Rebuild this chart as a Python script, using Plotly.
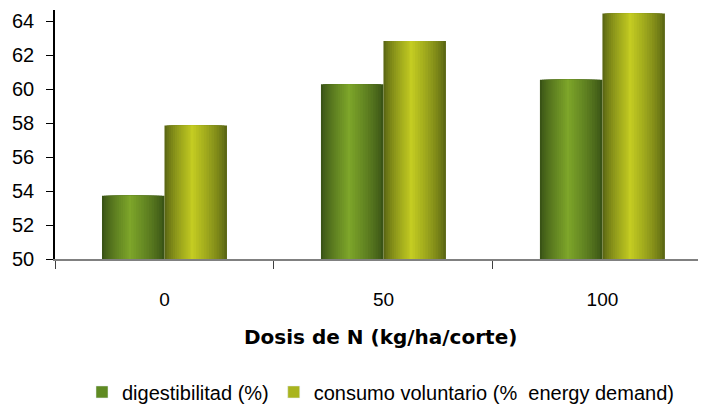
import plotly.graph_objects as go

categories = ["0", "50", "100"]
digestibilidad = [53.72, 60.28, 60.55]
consumo = [57.86, 62.82, 64.45]
series_names = ["digestibilitad (%)", "consumo voluntario (%\u00a0 energy demand)"]
y_ticks = [50, 52, 54, 56, 58, 60, 62, 64]


def mix(c1, c2, t):
    return "rgb(%d,%d,%d)" % tuple(round(a + (b - a) * t) for a, b in zip(c1, c2))


fig = go.Figure()

bar_w = 0.2854
styles = [
    # (values, name, left offset, dark, bright, legend colour)
    (digestibilidad, series_names[0], -bar_w, (58, 84, 22), (126, 166, 42), "#5f8a22"),
    (consumo, series_names[1], 0.0, (92, 104, 20), (196, 204, 34), "#a9b41e"),
]
n_layers = 14
peak = 0.45
for vals, name, off, dark, bright, leg in styles:
    for k in range(n_layers):
        t = k / (n_layers - 1)
        left = off + t * peak * bar_w * 0.97
        right = off + bar_w - t * (1 - peak) * bar_w * 0.97
        fig.add_trace(go.Bar(
            x=categories, y=vals, name=name,
            offset=left, width=right - left,
            marker=dict(color=mix(dark, bright, t ** 0.8), line=dict(width=0)),
            showlegend=False, legendgroup=name, hoverinfo="skip",
        ))
    # legend entry
    fig.add_trace(go.Bar(
        x=categories, y=[None] * len(categories), name=name,
        marker=dict(color=leg), showlegend=True, legendgroup=name,
    ))

# the page body has an 8px margin, so the figure is 8px smaller than the window
fig.update_layout(
    width=698, height=400,
    margin=dict(l=47, r=0, t=2, b=149, autoexpand=False),
    paper_bgcolor="white", plot_bgcolor="white",
    barmode="overlay",
    font=dict(family="Liberation Sans, Arial, sans-serif", size=19, color="black"),
    showlegend=True,
    legend=dict(orientation="h", x=0.5, xanchor="center", y=-0.534, yanchor="middle",
                font=dict(size=20), itemwidth=30, tracegroupgap=0,
                traceorder="normal"),
    xaxis=dict(
        type="category", range=[-0.5, 2.473], automargin=False,
        showline=True, linecolor="#808080", linewidth=1.5,
        ticks="outside", tickson="boundaries", ticklen=8, tickcolor="#404040",
        ticklabelstandoff=22, showgrid=False, zeroline=False,
        tickfont=dict(size=19),
    ),
    yaxis=dict(
        range=[50, 64.65], tickvals=y_ticks, automargin=False,
        showline=True, linecolor="black", linewidth=1.5,
        ticks="outside", ticklen=7, tickcolor="black",
        ticklabelstandoff=8, showgrid=False, zeroline=False,
        tickfont=dict(size=20),
    ),
    annotations=[dict(
        text="<b>Dosis de N (kg/ha/corte)</b>", xref="paper", yref="paper",
        x=0.5, y=-0.313, xanchor="center", yanchor="middle", showarrow=False,
        font=dict(family="DejaVu Sans, sans-serif", size=20, color="black"),
    )],
)

fig.write_html("out.html")
